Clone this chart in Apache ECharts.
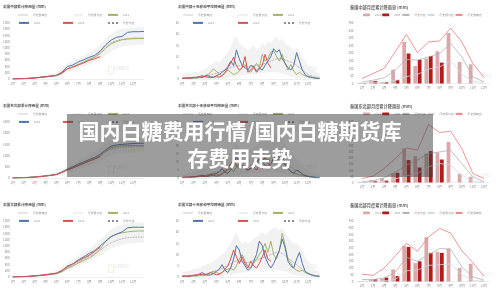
<!DOCTYPE html>
<html>
<head>
<meta charset="utf-8">
<title>国内白糖费用行情</title>
<script src="https://cdn.jsdelivr.net/npm/echarts@6.0.0/dist/echarts.min.js"></script>
<style>
html,body{margin:0;padding:0;width:500px;height:291px;overflow:hidden;background:#fff}
.box{position:absolute;width:166px;height:99px}
#cover{position:absolute;left:0;top:0;width:500px;height:291px}
</style>
</head>
<body>
<div id="c11" class="box" style="left:0;top:0"></div>
<div id="c12" class="box" style="left:170px;top:0"></div>
<div id="c13" class="box" style="left:334px;top:0"></div>
<div id="c21" class="box" style="left:0;top:99px"></div>
<div id="c22" class="box" style="left:170px;top:99px"></div>
<div id="c23" class="box" style="left:334px;top:99px"></div>
<div id="c31" class="box" style="left:0;top:198px"></div>
<div id="c32" class="box" style="left:170px;top:198px"></div>
<div id="c33" class="box" style="left:334px;top:198px"></div>
<div id="cover"></div>
<script>
var FONT = '"Noto Sans CJK SC", "Noto Sans", sans-serif';
var titleLines = ['国内白糖费用行情/国内白糖期货库', '存费用走势'];
var months = ['1月','2月','3月','4月','5月','6月','7月','8月','9月','10月','11月','12月'];

// 累计降雨量 (半月一个点, 25 点)
var cMax  = [0,10,20,40,60,90,120,160,210,340,500,580,670,760,860,960,1100,1300,1460,1560,1610,1640,1650,1660,1660];
var cMin  = [0,2,5,10,15,25,35,50,70,120,220,280,340,400,470,540,630,780,900,990,1040,1070,1090,1100,1100];
var cAvg  = [0,5,12,22,35,50,68,90,115,190,320,390,470,550,640,720,860,1040,1170,1240,1280,1300,1315,1320,1320];
var c2024 = [0,4,10,20,32,48,66,86,108,175,320,390,470,550,630,700,820,990,1130,1210,1260,1285,1295,1300,1300];
var c2025 = [0,5,12,22,35,55,75,95,120,220,400,450,550,620,700,760,900,1100,1250,1340,1370,1500,1520,1520,1530];
var c2026 = [0,6,12,22,36,55,72,92,115,200,330,380,450,520,600,650,720];

var neMax  = [0,15,30,50,80,110,150,200,260,380,520,640,780,900,1020,1180,1350,1550,1680,1730,1750,1760,1770,1770,1770];
var neMin  = [0,3,6,10,18,28,40,55,75,130,220,300,390,470,560,650,760,900,1020,1080,1110,1130,1140,1150,1150];
var neAvg  = [0,8,16,28,45,65,90,120,160,250,370,460,570,660,760,860,1000,1180,1300,1350,1380,1390,1400,1400,1400];
var ne2024 = [0,6,14,25,40,60,85,115,150,240,360,450,560,650,750,850,980,1200,1350,1410,1440,1450,1450,1450,1450];
var ne2025 = [0,8,18,30,48,70,95,125,165,270,400,500,620,720,820,920,1060,1250,1420,1480,1500,1520,1540,1550,1550];
var ne2026 = [0,7,15,26,42,62,88,118,155,250,360,450,560,660,760,860,950];

var nMax  = [0,10,20,35,55,80,110,150,200,320,460,560,680,800,920,1050,1200,1380,1520,1620,1680,1720,1740,1750,1750];
var nMin  = [0,2,5,10,16,25,35,50,70,120,210,280,360,440,520,600,700,820,920,990,1040,1070,1090,1100,1100];
var nAvg  = [0,5,12,22,34,50,68,90,115,190,300,380,480,570,670,760,850,1000,1100,1180,1230,1260,1275,1285,1285];
var n2024 = [0,4,10,18,30,45,62,82,105,170,280,350,450,530,620,720,900,1150,1300,1380,1420,1450,1470,1480,1480];
var n2025 = [0,5,12,22,36,52,70,92,120,200,350,420,550,650,760,850,1000,1150,1300,1380,1450,1580,1600,1600,1600];
var n2026 = [0,6,13,24,38,55,75,98,125,210,330,420,520,610,700,820,960];

// 十天移动平均降雨量 (每月4个点, 49 点)
var cmMax  = [2,2.5,3,2.5,3,3.5,3,4, 4.5,5,6,7,8,7,9,10, 12,14,18,19,16,15,14,13, 14,15,13,14,16,15,17,16, 18,19,17,18,16,15,14,13, 14,12,10,8,6,5,4,3, 2.5];
var cmMin  = [0,0,0,0,0,0,0,0, 0,0,0.1,0.2,0.3,0.3,0.4,0.5, 0.6,0.8,1,1.2,1.5,1.5,1.8,2, 2,2,2.2,2.5,2.5,2.8,3,3, 3,3,2.8,2.5,2,1.5,1,0.8, 0.5,0.3,0.2,0.1,0,0,0,0, 0];
var cmAvg  = [0.3,0.3,0.4,0.5,0.5,0.6,0.8,1, 1.2,1.5,1.8,2.2,2.6,3,3.4,4, 4.5,5,5.5,6,6,5.8,5.5,5.5, 5.8,6,6,6.2,6.5,7,7.5,8, 8.5,9,9,9,8.5,8,7.5,7, 6,5,4,3,2,1.5,1,0.8, 0.6];
var cm2024 = [0.2,0.3,0.2,0.4,0.5,0.3,0.6,1, 1.5,2,3,4.5,3.5,2,1.5,2.5, 4,3,2,2.5,3.5,5,6.5,4, 3,5,7,5,11,8,9,12, 12.5,10,8,11,7,4,6.5,3.5, 2,3,2,1.5,1,0.8,0.5,0.4, 0.3];
var cm2025 = [0.3,0.4,0.5,0.3,0.5,0.8,1,0.6, 1.2,1.5,1,0.8,1.5,2,3,4, 5.5,8,6,13,9,6,5,4, 6,5.5,3.5,5,4,6,8,10, 13.5,12,13,9,7,5,4,6, 11.8,8,4,2,1,0.8,0.5,0.3, 0.2];
var cm2026 = [0.3,0.4,0.5,0.6,0.8,0.6,1,1.5, 1,0.8,0.6,0.8,1,0.8,1.5,3, 5,7,9.7,6,4,5,10,3, 4,5.5,3,4.5,6,11,7,5];

var nemMax  = [2,2.5,3,3,4,4,5,6, 6,7,8,9,10,11,12,13, 15,17,20,22,19,17,18,17, 18,19,21,22,24,23,25,26, 28,27,25,24,22,19,16,14, 12,10,8,6,5,4,3,2.5, 2];
var nemMin  = [0,0,0,0,0,0,0,0, 0,0,0.1,0.2,0.4,0.5,0.6,0.8, 1,1.2,1.5,1.8,2,2.2,2.5,2.8, 3,3.2,3.5,3.5,3.8,4,4,4, 4,3.8,3.5,3,2.5,2,1.5,1, 0.8,0.5,0.3,0.2,0.1,0,0,0, 0];
var nemAvg  = [0.3,0.4,0.5,0.6,0.7,0.8,1,1.3, 1.6,2,2.4,2.8,3.2,3.8,4.4,5, 5.8,6.6,7.4,8,7.8,7.5,7.2,7.2, 7.6,8,8.5,9,9.5,10,10.5,11, 11.5,12,11.5,11,10,8.5,7,5.5, 4.5,3.5,2.6,1.8,1.2,0.9,0.6,0.4, 0.3];
var nem2024 = [0.2,0.3,0.3,0.4,0.5,0.5,0.8,1, 1.5,2,2.5,3,2.5,2,3,4, 5,6,4,7,9,8,6,5, 6,8,10,12,9,14,11,13, 15,12,10,14,9,6,4,3, 2.5,2,1.5,1.2,1,0.6,0.4,0.3, 0.2];
var nem2025 = [0.3,0.4,0.4,0.5,0.6,0.9,1.2,1.8, 1.2,1,1.5,2,3,4,6,3.5, 3,5,9,13,10,7,6,5, 6,8,9,12,10,8,7,9, 12,15,13,10,8,6,4,3, 5,4,2.5,1.5,1,0.7,0.5,0.3, 0.2];
var nem2026 = [0.3,0.4,0.5,0.6,0.8,1,1.3,1.1, 0.9,1.3,2.2,1.6,1.2,1.5,2.5,4, 6,9,11,8,6,8,7,5, 6,7,5,8,10,13,9,8];

var nmMax  = [2,2.5,3,3,3.5,4,4,5, 5,6,6,7,8,9,10,11, 13,15,18,20,17,15,16,15, 16,17,18,19,20,19,20,21, 22,22,21,22,20,18,16,15, 15,14,12,9,7,5,4,3, 2.5];
var nmMin  = [0,0,0,0,0,0,0,0, 0,0,0.1,0.2,0.3,0.4,0.5,0.6, 0.8,1,1.2,1.5,1.8,2,2.2,2.5, 2.5,2.8,3,3,3.2,3.5,3.5,3.5, 3.5,3.2,3,2.8,2.5,2,1.5,1, 0.8,0.5,0.3,0.2,0.1,0,0,0, 0];
var nmAvg  = [0.3,0.3,0.4,0.5,0.6,0.7,0.9,1.1, 1.4,1.7,2,2.4,2.8,3.2,3.8,4.5, 5.2,6,6.8,7.2,7,6.8,6.5,6.5, 6.8,7.2,7.6,8,8.5,9,9.5,10, 10.5,11,11,10.5,9.5,8.5,7.5,6.5, 5.5,4.5,3.5,2.5,1.8,1.2,0.9,0.6, 0.4];
var nm2024 = [0.2,0.3,0.2,0.3,0.5,0.4,0.6,0.8, 1,1.5,2,2.5,2,1.5,2,3, 3.5,4,3,5,8,10,7,5, 4,6,8,10,12,15,11,16, 10,8,12,19.5,14,8,6,4, 3,2.5,3,2,1.5,1,0.6,0.4, 0.3];
var nm2025 = [0.3,0.4,0.3,0.5,0.6,0.8,1.2,2, 1.2,0.8,1,1.5,2.5,3.5,5.5,3, 2,4,8,14,12,7,5,3, 4,7,10,16,14,9,6,4, 6,9,12,17,13,7,5,4, 8,11,6,2.5,1.5,1,0.6,0.4, 0.3];
var nm2026 = [0.3,0.4,0.5,0.6,0.8,1,1.2,1, 0.8,1.2,2,1.5,1,1.2,2,3.5, 5,8,12,9,6,9,6,4, 7,5,4,6,9,12,8,7];

// 月度累计降雨量 (12 个月)
var cb2025 = [5,15,10,92,275,116,165,213,334,143,127,0];
var cb2026 = [3,16,8,22,198,158,182,138];
var cbAvg  = [10,22,37,88,160,154,176,198,264,176,44,11];
var cbMin  = [2,5,8,20,45,60,95,110,150,60,15,5];
var cbMax  = [33,66,100,210,325,204,275,281,367,275,132,40];

var eb2025 = [5,20,35,75,281,218,240,248,336,72,47,5];
var eb2026 = [2,14,17,80,185,124,259,190];
var ebAvg  = [6,15,40,85,143,185,240,253,267,157,47,8];
var ebMin  = [1,3,10,30,55,74,130,157,143,60,12,2];
var ebMax  = [33,52,116,198,286,267,479,413,424,281,74,33];

var nb2025 = [3,15,22,90,265,137,330,221,245,101,132,5];
var nb2026 = [0,17,29,41,257,150,213,213];
var nbAvg  = [15,15,25,70,180,150,200,245,240,110,35,10];
var nbMin  = [2,3,5,15,80,85,120,125,130,50,8,2];
var nbMax  = [55,45,100,190,285,225,330,395,360,230,140,40];

var halfCats = [];
for (var i = 0; i < 25; i++) halfCats.push(i % 2 === 0 && i / 2 < 12 ? months[i / 2] : '');
var weekCats = [];
for (var j = 0; j < 49; j++) weekCats.push(j % 4 === 0 && j / 4 < 12 ? months[j / 4] : '');

var legendNames = ['历史最高值','历史最低值','2024','2025','2026','历史均值'];
var legendPos = {
  1: [[18,13.5],[73,13.5],[107,13.5],[18,21.5],[62,21.5],[107,21.5]],
  2: [[13,13.5],[68,13.5],[102,13.5],[22,21.5],[67,21.5],[113,21.5]]
};

function plain(v) { return String(v); }

function lineOption(col, title, cats, yMax, yStep, gridW, d) {
  var legends = legendNames.map(function (nm, k) {
    var item = {name: nm};
    if (nm === '历史最高值') { item.icon = 'rect'; item.itemStyle = {color: '#e4e4e4'}; }
    if (nm === '历史最低值') { item.icon = 'rect'; item.itemStyle = {color: '#f0f0f0'}; }
    return {
      data: [item], left: legendPos[col][k][0], top: legendPos[col][k][1],
      padding: 0, itemWidth: 10, itemHeight: 2, selectedMode: false,
      textStyle: {fontSize: 2.8, color: '#9a9a9a'}
    };
  });
  var diff = d.max.map(function (v, i) { return +(v - d.min[i]).toFixed(2); });
  return {
    animation: false,
    textStyle: {fontFamily: FONT},
    title: {text: title, left: col === 1 ? 3 : 8, top: 5, padding: 0,
      textStyle: {fontSize: 3.6, fontWeight: 'bold', color: '#555'}},
    legend: legends,
    graphic: [
      {type: 'rect', left: col === 1 ? 106 : 124, top: 64, shape: {width: 5, height: 8, r: 1},
        style: {fill: 'none', stroke: '#eee4c8', lineWidth: 0.6}},
      {type: 'text', left: col === 1 ? 113 : 131, top: 66,
        style: {text: '大越期货', fill: '#e6e6e6', fontSize: 4, fontFamily: FONT}}
    ],
    grid: {left: 12, top: 23, width: gridW, height: 56},
    xAxis: {type: 'category', boundaryGap: false, data: cats,
      axisLine: {lineStyle: {color: '#dddddd', width: 0.5}}, axisTick: {show: false},
      axisLabel: {fontSize: 3, color: '#8a8a8a', interval: 0, margin: 3}},
    yAxis: {type: 'value', min: 0, max: yMax, interval: yStep,
      splitLine: {show: false}, axisLine: {show: false}, axisTick: {show: false},
      axisLabel: {fontSize: 3, color: '#8a8a8a', margin: 3, formatter: plain}},
    series: [
      {name: '历史最低值', type: 'line', stack: 'band', data: d.min, symbol: 'none',
        lineStyle: {opacity: 0}, itemStyle: {color: '#f0f0f0'}},
      {name: '历史最高值', type: 'line', stack: 'band', data: diff, symbol: 'none',
        lineStyle: {opacity: 0}, itemStyle: {color: '#e4e4e4'}, areaStyle: {color: '#f2f2f2', opacity: 1}},
      {name: '历史均值', type: 'line', data: d.avg, symbol: 'none',
        lineStyle: {color: '#8c8c8c', width: 0.8, type: 'dotted'}, itemStyle: {color: '#8c8c8c'}},
      {name: '2024', type: 'line', data: d.y2024, symbol: 'none',
        lineStyle: {color: '#a3b164', width: 1}, itemStyle: {color: '#a3b164'}},
      {name: '2025', type: 'line', data: d.y2025, symbol: 'none',
        lineStyle: {color: '#4f74ab', width: 1}, itemStyle: {color: '#4f74ab'}},
      {name: '2026', type: 'line', data: d.y2026, symbol: 'none',
        lineStyle: {color: '#e05050', width: 1}, itemStyle: {color: '#e05050'}}
    ]
  };
}

function barOption(title, yMax, yStep, d) {
  return {
    animation: false,
    textStyle: {fontFamily: FONT},
    title: {text: title, left: 16, top: 5, padding: 0,
      textStyle: {fontSize: 4.2, fontWeight: 'bold', color: '#666'}},
    legend: {left: 29, top: 13.5, padding: 0, itemWidth: 7, itemHeight: 2.6, itemGap: 1,
      selectedMode: false, textStyle: {fontSize: 2.8, color: '#9a9a9a'},
      data: ['2025', '2026', '历史均值', '历史最低值', '历史最高值']},
    graphic: [{type: 'text', left: 142, top: 74,
      style: {text: '大越期货', fill: '#eeeeee', fontSize: 4, fontFamily: FONT}}],
    grid: {left: 22.5, top: 23, width: 133, height: 60.5},
    xAxis: {type: 'category', data: months,
      axisLine: {lineStyle: {color: '#dddddd', width: 0.5}}, axisTick: {show: false},
      axisLabel: {fontSize: 3, color: '#8a8a8a', margin: 3}},
    yAxis: {type: 'value', min: 0, max: yMax, interval: yStep,
      splitLine: {show: false}, axisLine: {show: false}, axisTick: {show: false},
      axisLabel: {fontSize: 3, color: '#8a8a8a', margin: 3, formatter: plain}},
    series: [
      {name: '2025', type: 'bar', data: d.y2025, barWidth: 3.8, barGap: '15%', itemStyle: {color: '#d9a9a9'}},
      {name: '2026', type: 'bar', data: d.y2026, barWidth: 3.8, itemStyle: {color: '#b51a1a'}},
      {name: '历史均值', type: 'line', data: d.avg, symbol: 'none',
        lineStyle: {color: '#b3b3b3', width: 0.8}, itemStyle: {color: '#b3b3b3'}},
      {name: '历史最低值', type: 'line', data: d.min, symbol: 'none',
        lineStyle: {color: '#c9dce9', width: 0.8}, itemStyle: {color: '#c9dce9'}},
      {name: '历史最高值', type: 'line', data: d.max, symbol: 'none',
        lineStyle: {color: '#ef8a8a', width: 0.9}, itemStyle: {color: '#ef8a8a'}}
    ]
  };
}

function mk(id, opt) {
  var ch = echarts.init(document.getElementById(id), null, {renderer: 'canvas'});
  ch.setOption(opt);
}

mk('c11', lineOption(1, '泰国中部累计降雨量 (mm)', halfCats, 1800, 200, 132,
  {max: cMax, min: cMin, avg: cAvg, y2024: c2024, y2025: c2025, y2026: c2026}));
mk('c21', lineOption(1, '泰国东北部累计降雨量 (mm)', halfCats, 2500, 500, 132,
  {max: neMax, min: neMin, avg: neAvg, y2024: ne2024, y2025: ne2025, y2026: ne2026}));
mk('c31', lineOption(1, '泰国北部累计降雨量 (mm)', halfCats, 1800, 200, 132,
  {max: nMax, min: nMin, avg: nAvg, y2024: n2024, y2025: n2025, y2026: n2026}));

mk('c12', lineOption(2, '泰国中部十天移动平均降雨量 (mm)', weekCats, 25, 5, 137.5,
  {max: cmMax, min: cmMin, avg: cmAvg, y2024: cm2024, y2025: cm2025, y2026: cm2026}));
mk('c22', lineOption(2, '泰国东北部十天移动平均降雨量 (mm)', weekCats, 35, 5, 137.5,
  {max: nemMax, min: nemMin, avg: nemAvg, y2024: nem2024, y2025: nem2025, y2026: nem2026}));
mk('c32', lineOption(2, '泰国北部十天移动平均降雨量 (mm)', weekCats, 25, 5, 137.5,
  {max: nmMax, min: nmMin, avg: nmAvg, y2024: nm2024, y2025: nm2025, y2026: nm2026}));

mk('c13', barOption('泰国中部月度累计降雨量 (mm)', 400, 50,
  {y2025: cb2025, y2026: cb2026, avg: cbAvg, min: cbMin, max: cbMax}));
mk('c23', barOption('泰国东北部月度累计降雨量 (mm)', 500, 50,
  {y2025: eb2025, y2026: eb2026, avg: ebAvg, min: ebMin, max: ebMax}));
mk('c33', barOption('泰国北部月度累计降雨量 (mm)', 450, 50,
  {y2025: nb2025, y2026: nb2026, avg: nbAvg, min: nbMin, max: nbMax}));

// 标题遮罩层
var cover = echarts.init(document.getElementById('cover'));
cover.setOption({
  animation: false,
  graphic: [
    {type: 'rect', shape: {x: 67, y: 114, width: 366, height: 63},
      style: {fill: 'rgba(60,60,60,0.5)'}},
    {type: 'text', x: 240, y: 131,
      style: {text: titleLines[0], fill: '#ffffff', fontSize: 21, fontWeight: 'bold',
        fontFamily: FONT, align: 'center', verticalAlign: 'middle'}},
    {type: 'text', x: 240, y: 158,
      style: {text: titleLines[1], fill: '#ffffff', fontSize: 21, fontWeight: 'bold',
        fontFamily: FONT, align: 'center', verticalAlign: 'middle'}}
  ]
});
</script>
</body>
</html>
